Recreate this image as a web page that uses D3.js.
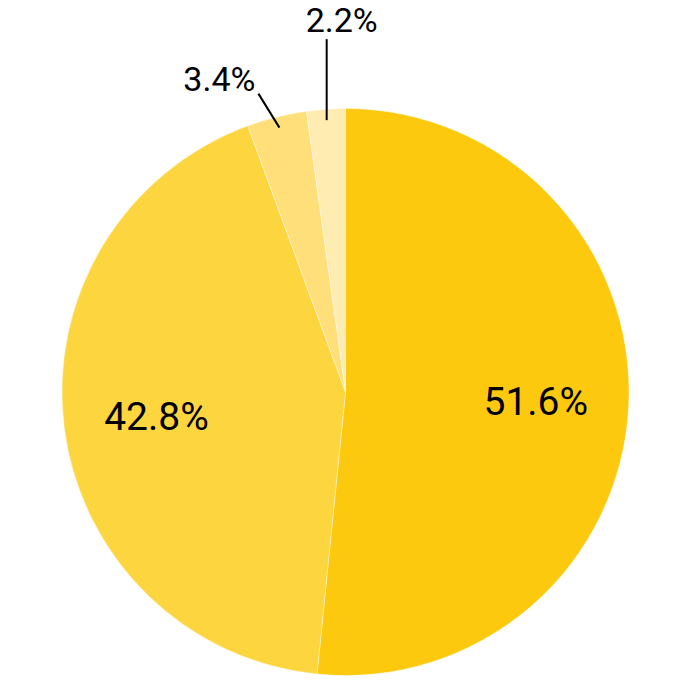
<!DOCTYPE html>
<html>
<head>
<meta charset="utf-8">
<script src="https://cdn.jsdelivr.net/npm/d3@7"></script>
<style>
  html, body { margin: 0; padding: 0; background: #fff; }
  svg { display: block; font-family: Roboto, "Noto Sans", sans-serif; }
</style>
</head>
<body>
<div id="chart"></div>
<script>
// values
const shares = [51.6, 42.8, 3.4, 2.2];
const labels = ['51.6%', '42.8%', '3.4%', '2.2%'];
const colors = ['#fcc90e', '#fdd53e', '#fedf79', '#ffecb0'];

const width = 698, height = 682;
const cx = 345.5, cy = 392, radius = 283.5;

const svg = d3.select('#chart').append('svg')
    .attr('width', width)
    .attr('height', height);

const g = svg.append('g').attr('transform', `translate(${cx},${cy})`);

const pie = d3.pie().sort(null).value(d => d);
const arcs = pie(shares);

const arc = d3.arc().innerRadius(0).outerRadius(radius);
const labelArc = d3.arc().innerRadius(radius * 0.672).outerRadius(radius * 0.672);
const leaderArc = d3.arc().innerRadius(radius - 11).outerRadius(radius - 11);

g.selectAll('path.slice')
    .data(arcs)
    .enter()
    .append('path')
    .attr('class', 'slice')
    .attr('d', arc)
    .attr('fill', (d, i) => colors[i])
    .attr('stroke', '#fff')
    .attr('stroke-width', 0.4);

// big slices: label inside
const inside = arcs.filter(d => d.data >= 10);
g.selectAll('text.inner')
    .data(inside)
    .enter()
    .append('text')
    .attr('class', 'inner')
    .attr('transform', d => `translate(${labelArc.centroid(d)})`)
    .attr('text-anchor', 'middle')
    .attr('dy', '0.35em')
    .attr('font-size', 39)
    .attr('fill', '#000')
    .text(d => labels[d.index]);

// small slices: leader line + label outside
const leader = {
    2: { line: [-21, -34], text: [-39, -15] },
    3: { line: [0, -81], text: [15, -19] }
};
const outside = arcs.filter(d => d.data < 10);

outside.forEach(d => {
    const [sx, sy] = leaderArc.centroid(d);
    const L = leader[d.index];
    const ex = sx + L.line[0], ey = sy + L.line[1];
    g.append('line')
        .attr('x1', sx).attr('y1', sy)
        .attr('x2', ex).attr('y2', ey)
        .attr('stroke', '#000')
        .attr('stroke-width', 2);
    g.append('text')
        .attr('x', ex + L.text[0])
        .attr('y', ey + L.text[1])
        .attr('text-anchor', 'middle')
        .attr('dy', '0.35em')
        .attr('font-size', 34)
        .attr('fill', '#000')
        .text(labels[d.index]);
});
</script>
</body>
</html>
